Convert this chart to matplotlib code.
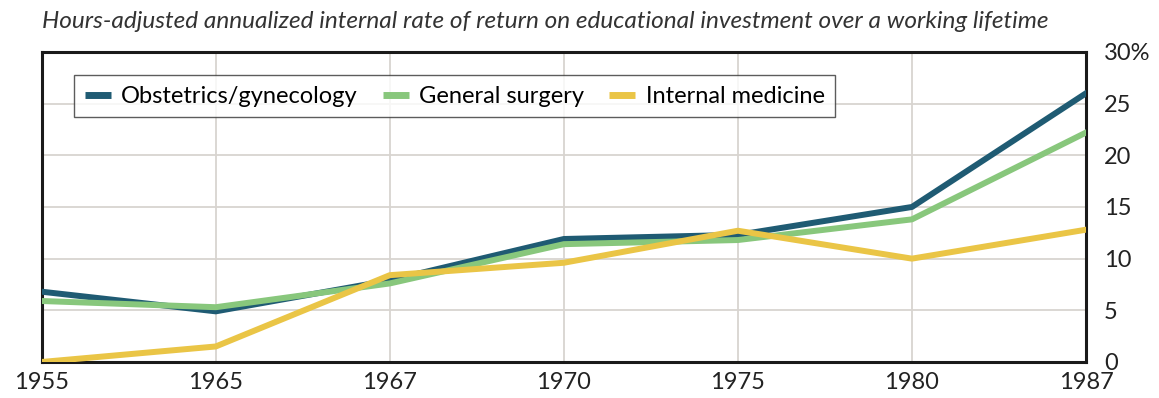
import matplotlib.pyplot as plt
import numpy as np

plt.rcParams['font.family'] = ['Lato', 'DejaVu Sans']

years = ['1955', '1965', '1967', '1970', '1975', '1980', '1987']
obgyn = [6.8, 4.9, 7.9, 11.9, 12.3, 15.0, 26.0]
surgery = [5.9, 5.3, 7.6, 11.4, 11.8, 13.8, 22.2]
internal = [0.0, 1.5, 8.4, 9.6, 12.7, 10.0, 12.8]

colors = {'Obstetrics/gynecology': '#1f5b73',
          'General surgery': '#88c77c',
          'Internal medicine': '#eac546'}

fig = plt.figure(figsize=(11.59, 3.98), dpi=100)
ax = fig.add_axes([0.036, 0.0905, 0.901, 0.779])

x = np.arange(len(years))
ax.plot(x, obgyn, color=colors['Obstetrics/gynecology'], lw=4.3, label='Obstetrics/gynecology', zorder=3)
ax.plot(x, surgery, color=colors['General surgery'], lw=4.3, label='General surgery', zorder=4)
ax.plot(x, internal, color=colors['Internal medicine'], lw=4.3, label='Internal medicine', zorder=5)

ax.set_xlim(0, len(years) - 1)
ax.set_ylim(0, 30)
ax.set_xticks(x)
ax.set_xticklabels(years)
ax.set_yticks(range(0, 31, 5))
ax.set_yticklabels(['0', '5', '10', '15', '20', '25', '30%'])
ax.yaxis.tick_right()
ax.tick_params(length=0, labelsize=17, colors='#222222')
ax.tick_params(axis='x', pad=7)
ax.tick_params(axis='y', pad=13)
ax.grid(True, color='#d8d4d0', lw=1.3, zorder=0)
for s in ax.spines.values():
    s.set_linewidth(2.2)
    s.set_color('#1a1a1a')

leg = ax.legend(loc='upper left', bbox_to_anchor=(0.031, 0.925), ncol=3, fontsize=17,
                frameon=True, fancybox=False, handlelength=1.1, handletextpad=0.45,
                columnspacing=1.05, borderpad=0.45, borderaxespad=0)
leg.get_frame().set_edgecolor('#333333')
leg.get_frame().set_linewidth(1.0)
for h in leg.get_lines():
    h.set_linewidth(5)
    h.set_solid_capstyle('butt')

fig.text(0.036, 0.945, 'Hours-adjusted annualized internal rate of return on educational investment over a working lifetime',
         fontsize=17.6, style='italic', color='#333333', va='center', ha='left')

fig.savefig('out.png', dpi=100)
